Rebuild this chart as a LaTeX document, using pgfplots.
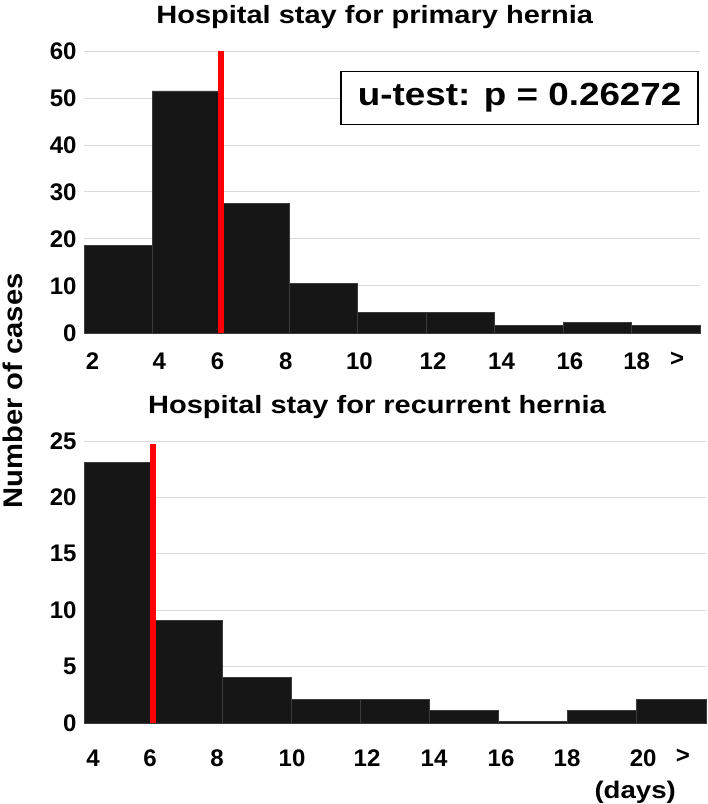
\documentclass[border=0pt]{standalone}
\usepackage{pgfplots}
\pgfplotsset{compat=1.18}
\usepackage{fontspec}
\setmainfont{Liberation Sans}
\newfontfamily\tickfont{Liberation Sans}
\newfontfamily\titlefont[FakeStretch=1.16]{Liberation Sans}
\newfontfamily\boxfont[FakeStretch=1.15]{Liberation Sans}
\newfontfamily\daysfont[FakeStretch=1.15]{Liberation Sans}
\newfontfamily\ylabfont[FakeStretch=1.08]{Liberation Sans}
\definecolor{barfill}{HTML}{161616}
\definecolor{baredge}{HTML}{3C3C3C}
\definecolor{gridc}{HTML}{DADADA}
\definecolor{axisc}{HTML}{6E6E6E}
\begin{document}
\begin{tikzpicture}
\useasboundingbox (0,0) rectangle (708pt,804pt);
\pgfplotsset{
  hist/.style={
    scale only axis, height=282pt, anchor=south west,
    ymin=0,
    axis x line*=bottom, axis y line*=left,
    y axis line style={draw=none},
    x axis line style={draw=axisc, line width=1.6pt},
    ymajorgrids, grid style={gridc, line width=1pt},
    major tick length=0pt,
    tick label style={font=\tickfont\bfseries\fontsize{24}{24}\selectfont},
    yticklabel style={xshift=-4pt},
    /pgf/number format/assume math mode=true,
    title style={font=\titlefont\bfseries\fontsize{25}{25}\selectfont, anchor=base, yshift=22pt, inner sep=0pt},
    clip=false,
  }
}
\begin{axis}[hist, at={(84pt,471pt)}, width=616pt,
  xmin=2, xmax=20, ymax=60, ytick={0,10,...,60},
  xtick={2.25,4.2,5.9,7.9,10.05,12.2,14.2,16.2,18.15,19.33},
  xticklabels={2,4,6,8,10,12,14,16,18,>},
  xticklabel style={yshift=-16pt},
  title={Hospital stay for primary hernia},
  title style={at={(axis description cs:0.472,1)}}]
\addplot[ybar interval, fill=barfill, draw=baredge, line width=0.8pt]
  coordinates {(2,18.6) (4,51.5) (6,27.6) (8,10.6) (10,4.4) (12,4.4) (14,1.6) (16,2.3) (18,1.6) (20,0)};
\addplot[red, line width=6.5pt] coordinates {(6,0) (6,60)};
\node[draw=black, line width=1.5pt, fill=white, minimum width=357pt, minimum height=53pt,
  font=\boxfont\bfseries\fontsize{32}{32}\selectfont] at (axis cs:14.73,50.0) {u-test: p = 0.26272};
\end{axis}
\begin{axis}[hist, at={(84pt,81pt)}, width=622pt,
  xmin=4, xmax=22, ymax=25, ytick={0,5,...,25},
  xtick={4.26,5.91,7.85,10.02,12.19,14.13,16.07,17.98,20.18,21.33},
  xticklabels={4,6,8,10,12,14,16,18,20,>},
  xticklabel style={yshift=-23pt},
  title={Hospital stay for recurrent hernia},
  title style={at={(axis description cs:0.471,1)}}]
\addplot[ybar interval, fill=barfill, draw=baredge, line width=0.8pt]
  coordinates {(4,23.1) (6,9.1) (8,4.0) (10,2.1) (12,2.1) (14,1.1) (16,0.15) (18,1.1) (20,2.1) (22,0)};
\addplot[red, line width=6.5pt] coordinates {(6,0) (6,24.7)};
\node[anchor=base, inner sep=0pt, font=\daysfont\bfseries\fontsize{24}{24}\selectfont] at (axis cs:19.95,0) [yshift=-75pt] {(days)};
\end{axis}
\node[rotate=90, inner sep=0pt, font=\ylabfont\bfseries\fontsize{27}{27}\selectfont] at (13pt,413pt) {Number of cases};
\end{tikzpicture}
\end{document}
